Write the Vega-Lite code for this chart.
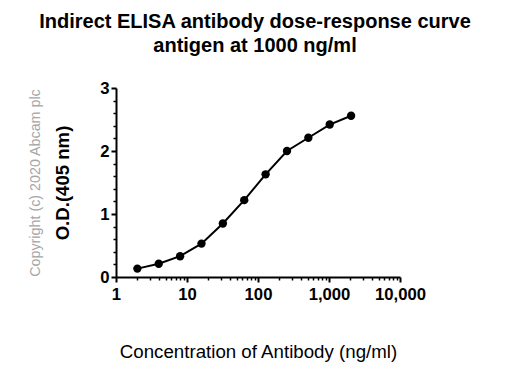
{
  "$schema": "https://vega.github.io/schema/vega-lite/v6.json",
  "width": 284,
  "height": 189,
  "autosize": {"type": "none"},
  "padding": {"left": 116, "top": 88, "right": 110, "bottom": 103},
  "background": "white",
  "config": {
    "font": "Liberation Sans",
    "view": {"stroke": null},
    "axis": {"grid": false, "domainColor": "black", "tickColor": "black", "labelColor": "black", "titleColor": "black"}
  },
  "title": {
    "text": ["Indirect ELISA antibody dose-response curve", "antigen at 1000 ng/ml"],
    "fontSize": 20,
    "fontWeight": "bold",
    "lineHeight": 24.5,
    "anchor": "middle",
    "color": "black",
    "dx": -3,
    "offset": 24
  },
  "data": {
    "values": [
      {"conc": 2, "od": 0.133},
      {"conc": 4, "od": 0.21},
      {"conc": 8, "od": 0.33},
      {"conc": 16, "od": 0.53},
      {"conc": 32, "od": 0.85},
      {"conc": 64, "od": 1.22},
      {"conc": 128, "od": 1.63},
      {"conc": 256, "od": 2.0},
      {"conc": 512, "od": 2.21},
      {"conc": 1024, "od": 2.42},
      {"conc": 2048, "od": 2.56}
    ]
  },
  "resolve": {"axis": {"x": "independent", "y": "independent"}},
  "layer": [
    {
      "mark": {"type": "point", "opacity": 0},
      "encoding": {
        "x": {
          "field": "conc", "type": "quantitative",
          "scale": {"type": "log", "domain": [1, 10000], "nice": false},
          "axis": {
            "orient": "bottom",
            "values": [2,3,4,5,6,7,8,9,20,30,40,50,60,70,80,90,200,300,400,500,600,700,800,900,2000,3000,4000,5000,6000,7000,8000,9000],
            "labels": false, "domain": false, "tickSize": 3, "tickWidth": 1.5, "title": null
          }
        },
        "y": {
          "field": "od", "type": "quantitative",
          "scale": {"domain": [0, 3], "nice": false},
          "axis": {
            "orient": "left",
            "values": [0.2,0.4,0.6,0.8,1.2,1.4,1.6,1.8,2.2,2.4,2.6,2.8],
            "labels": false, "domain": false, "tickSize": 3, "tickWidth": 1.5,
            "title": "Copyright (c) 2020 Abcam plc",
            "titleFontSize": 14.3, "titleFontWeight": "normal", "titleColor": "#a6a6a6",
            "titlePadding": 70
          }
        }
      }
    },
    {
      "mark": {"type": "line", "color": "black", "strokeWidth": 2},
      "encoding": {
        "x": {
          "field": "conc", "type": "quantitative",
          "scale": {"type": "log", "domain": [1, 10000], "nice": false},
          "axis": {
            "orient": "bottom",
            "values": [1, 10, 100, 1000, 10000],
            "format": ",",
            "domainWidth": 2, "tickWidth": 2, "tickSize": 5,
            "labelFontSize": 16.7, "labelFontWeight": "bold", "labelPadding": 4,
            "labelFlush": false,
            "title": "Concentration of Antibody (ng/ml)",
            "titleFontSize": 18.7, "titleFontWeight": "normal", "titlePadding": 40
          }
        },
        "y": {
          "field": "od", "type": "quantitative",
          "scale": {"domain": [0, 3], "nice": false},
          "axis": {
            "orient": "left",
            "values": [0, 1, 2, 3],
            "domainWidth": 2, "tickWidth": 2, "tickSize": 5,
            "labelFontSize": 16.7, "labelFontWeight": "bold", "labelPadding": 2,
            "labelFlush": false,
            "title": "O.D.(405 nm)",
            "titleFontSize": 18.6, "titleFontWeight": "bold", "titlePadding": 27
          }
        }
      }
    },
    {
      "mark": {"type": "circle", "color": "black", "size": 70, "opacity": 1},
      "encoding": {
        "x": {"field": "conc", "type": "quantitative", "scale": {"type": "log", "domain": [1, 10000], "nice": false}, "axis": null},
        "y": {"field": "od", "type": "quantitative", "scale": {"domain": [0, 3], "nice": false}, "axis": null}
      }
    }
  ]
}
